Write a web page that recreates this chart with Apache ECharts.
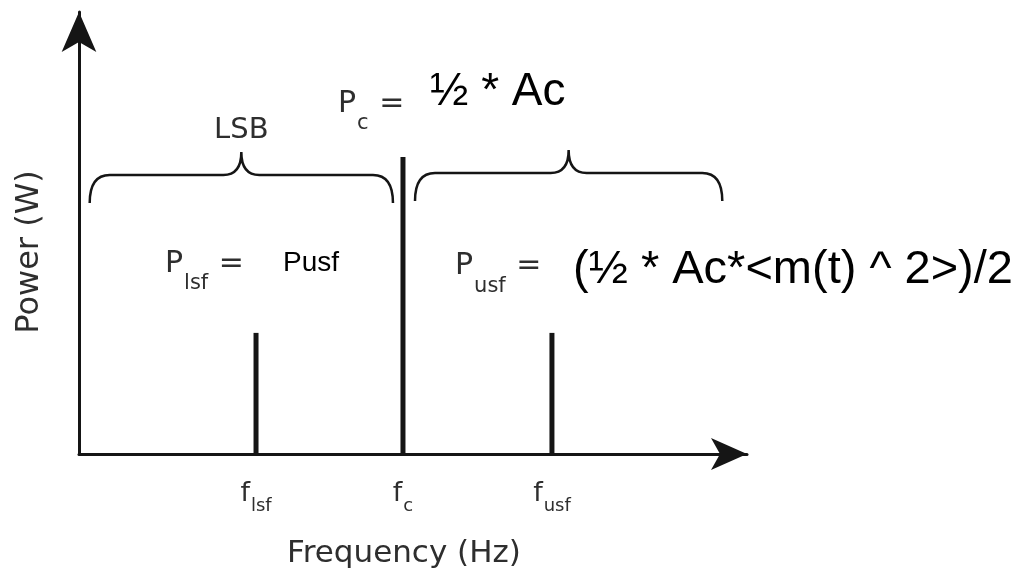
<!DOCTYPE html>
<html>
<head>
<meta charset="utf-8">
<title>AM spectrum</title>
<script src="https://cdn.jsdelivr.net/npm/echarts@6/dist/echarts.min.js"></script>
<style>
  html, body { margin: 0; padding: 0; background: #fff; }
  #spectrum { width: 1020px; height: 579px; }
</style>
</head>
<body>
<div id="spectrum"></div>
<script>
  // spectral lines: position on the frequency axis and power
  var freqSubs = ['lsf', 'c', 'usf'];
  var freqValues = [26.5, 48.5, 70.8];
  var powerValues = [27.4, 67.2, 27.4];

  // sideband braces (frequency range and height)
  var braceNames = ['LSB', ''];
  var braceFrom = [1.6, 50.3];
  var braceTo = [47.0, 96.3];
  var braceLevel = [63.1, 63.6];

  var scanFont = 'DejaVu Sans';
  var typeFont = 'Liberation Sans';
  var scanColor = '#2e2e2e';
  var inkColor = '#151515';

  function renderBrace(params, api) {
    var a = api.coord([api.value(0), api.value(2)]);
    var b = api.coord([api.value(1), api.value(2)]);
    var y = a[1], x0 = a[0], x1 = b[0], xc = (x0 + x1) / 2;
    var drop = 28, rise = 23, r = 20, r2 = 18;
    var d = 'M' + x0 + ' ' + (y + drop) +
      ' Q' + x0 + ' ' + y + ' ' + (x0 + r) + ' ' + y +
      ' L' + (xc - r2) + ' ' + y +
      ' Q' + xc + ' ' + y + ' ' + xc + ' ' + (y - rise) +
      ' Q' + xc + ' ' + y + ' ' + (xc + r2) + ' ' + y +
      ' L' + (x1 - r) + ' ' + y +
      ' Q' + x1 + ' ' + y + ' ' + x1 + ' ' + (y + drop);
    return {
      type: 'group',
      children: [
        { type: 'path', shape: { pathData: d }, style: { fill: 'none', stroke: inkColor, lineWidth: 2.5 } },
        {
          type: 'text', x: xc, y: y - rise - 22,
          style: {
            text: braceNames[params.dataIndex], fontFamily: scanFont, fontSize: 29,
            fill: scanColor, align: 'center', verticalAlign: 'middle'
          }
        }
      ]
    };
  }

  function subText(main, sub, tail, mainSize, subSize, drop) {
    return {
      text: '{p|' + main + '}{s|' + sub + '}{p|' + tail + '}',
      fill: scanColor,
      verticalAlign: 'top',
      rich: {
        p: { fontFamily: scanFont, fontSize: mainSize, lineHeight: mainSize, verticalAlign: 'top', fill: scanColor },
        s: { fontFamily: scanFont, fontSize: subSize, lineHeight: subSize, padding: [drop, 1, 0, 1], verticalAlign: 'top', fill: scanColor }
      }
    };
  }

  function showChart() {
    var myChart = echarts.init(document.getElementById('spectrum'));
    var spikes = freqValues.map(function (f, i) { return [f, powerValues[i]]; });
    var braces = braceFrom.map(function (f, i) { return [f, braceTo[i], braceLevel[i]]; });

    var option = {
      animation: false,
      backgroundColor: '#fff',
      grid: { left: 79, right: 273, top: 12, bottom: 125, outerBoundsMode: 'none' },
      xAxis: {
        type: 'value',
        min: 0,
        max: 100,
        splitLine: { show: false },
        axisTick: { show: false },
        axisLine: {
          show: true,
          symbol: ['none', 'arrow'],
          symbolSize: [24, 36],
          lineStyle: { color: inkColor, width: 3 }
        },
        axisLabel: {
          customValues: freqValues,
          margin: 26,
          formatter: function (v) {
            var i = freqValues.indexOf(v);
            return '{f|f}{s|' + freqSubs[i] + '}';
          },
          rich: {
            f: { fontFamily: scanFont, fontSize: 27, lineHeight: 27, verticalAlign: 'top', color: scanColor },
            s: { fontFamily: scanFont, fontSize: 18, lineHeight: 18, padding: [17, 0, 0, 1], verticalAlign: 'top', color: scanColor }
          }
        }
      },
      yAxis: {
        type: 'value',
        min: 0,
        max: 100,
        splitLine: { show: false },
        axisTick: { show: false },
        axisLabel: { show: false },
        axisLine: {
          show: true,
          symbol: ['none', 'arrow'],
          symbolSize: [26, 40],
          lineStyle: { color: inkColor, width: 3 }
        }
      },
      series: [
        {
          name: 'power',
          type: 'bar',
          barWidth: 5,
          itemStyle: { color: inkColor },
          data: spikes
        },
        {
          name: 'sidebands',
          type: 'custom',
          renderItem: renderBrace,
          encode: { x: [0, 1], y: 2 },
          data: braces
        }
      ],
      graphic: [
        {
          type: 'text', x: 30, y: 252, rotation: Math.PI / 2,
          style: { text: 'Power (W)', fontFamily: scanFont, fontSize: 32, fill: scanColor, align: 'center', verticalAlign: 'middle' }
        },
        {
          type: 'text', x: 404, y: 554,
          style: { text: 'Frequency (Hz)', fontFamily: scanFont, fontSize: 31, fill: scanColor, align: 'center', verticalAlign: 'middle' }
        },
        { type: 'text', x: 338, y: 89, style: subText('P', 'c', ' =', 30, 21, 24) },
        { type: 'text', x: 165, y: 249, style: subText('P', 'lsf', ' =', 30, 21, 24) },
        { type: 'text', x: 455, y: 251, style: subText('P', 'usf', ' =', 30, 21, 25) },
        {
          type: 'text', x: 430, y: 92,
          style: { text: '½ * Ac', fontFamily: typeFont, fontSize: 46, fill: '#000', verticalAlign: 'middle' }
        },
        {
          type: 'text', x: 283, y: 263,
          style: { text: 'Pusf', fontFamily: typeFont, fontSize: 28, fill: '#000', verticalAlign: 'middle' }
        },
        {
          type: 'text', x: 573, y: 270,
          style: { text: '(½ * Ac*<m(t) ^ 2>)/2', fontFamily: typeFont, fontSize: 47, fill: '#000', verticalAlign: 'middle' }
        }
      ]
    };

    myChart.setOption(option);
  }

  showChart();
</script>
</body>
</html>
